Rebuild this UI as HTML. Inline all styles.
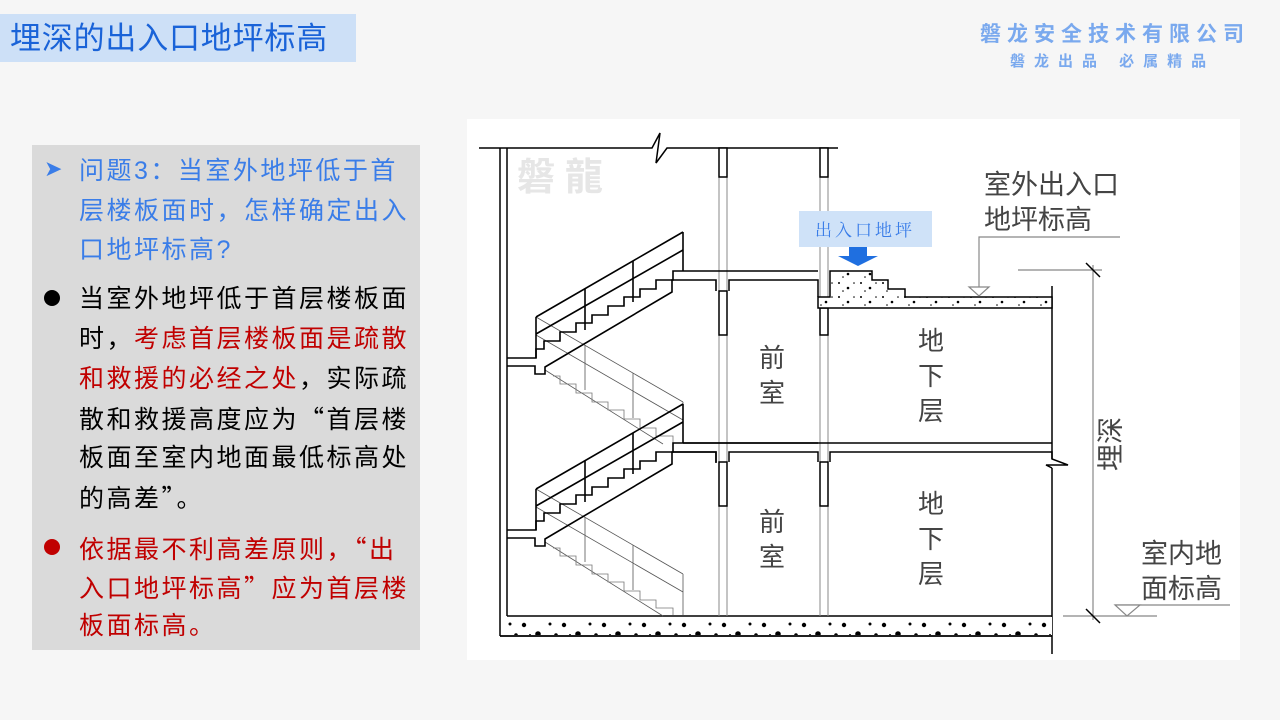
<!DOCTYPE html>
<html><head><meta charset="utf-8"><style>
body{margin:0;width:1280px;height:720px;background:#f6f6f6;position:relative;overflow:hidden;font-family:"Liberation Sans","Noto Sans CJK SC",sans-serif}
.t{position:absolute;white-space:nowrap}
.ln{position:absolute;left:79px;font-size:25px;line-height:30px;white-space:nowrap;letter-spacing:2.5px}
.q{font-family:"Noto Sans CJK SC",sans-serif}
</style></head><body>
<div class="t" style="left:0;top:14px;width:356px;height:48px;background:#cde0f7"></div>
<div class="t" style="left:10px;top:19px;font-size:31px;line-height:40px;color:#1a63d8;letter-spacing:0.8px">埋深的出入口地坪标高</div>
<div class="t" style="left:980px;top:18px;font-size:21px;font-weight:bold;color:#7aa9ee;letter-spacing:6px">磐龙安全技术有限公司</div>
<div class="t" style="left:1010px;top:50px;font-size:15px;font-weight:bold;color:#7aa9ee;letter-spacing:9px">磐龙出品 必属精品</div>

<div class="t" style="left:32px;top:145px;width:388px;height:505px;background:#dadada"></div>
<div class="t" style="left:44px;top:156px;font-size:22px;color:#3a7de8">➤</div>
<div class="ln" style="top:156px;color:#3a7de8">问题3：当室外地坪低于首</div>
<div class="ln" style="top:196px;color:#3a7de8">层楼板面时，怎样确定出入</div>
<div class="ln" style="top:235px;color:#3a7de8">口地坪标高?</div>
<div class="t" style="left:44px;top:290px;width:16px;height:16px;border-radius:50%;background:#000"></div>
<div class="ln" style="top:284px;color:#000">当室外地坪低于首层楼板面</div>
<div class="ln" style="top:324px;color:#000">时，<span style="color:#c00000">考虑首层楼板面是疏散</span></div>
<div class="ln" style="top:364px;color:#c00000">和救援的必经之处<span style="color:#000">，实际疏</span></div>
<div class="ln" style="top:403px;color:#000">散和救援高度应为<span class="q">“</span>首层楼</div>
<div class="ln" style="top:443px;color:#000">板面至室内地面最低标高处</div>
<div class="ln" style="top:482px;color:#000">的高差<span class="q">”</span>。</div>
<div class="t" style="left:44px;top:539px;width:16px;height:16px;border-radius:50%;background:#c00000"></div>
<div class="ln" style="top:533px;color:#c00000">依据最不利高差原则，<span class="q">“</span>出</div>
<div class="ln" style="top:572px;color:#c00000">入口地坪标高<span class="q">”</span>应为首层楼</div>
<div class="ln" style="top:611px;color:#c00000">板面标高。</div>

<svg style="position:absolute;left:0;top:0" width="1280" height="720" viewBox="0 0 1280 720">
<defs>
<pattern id="dots" width="22" height="14" patternUnits="userSpaceOnUse">
<rect width="22" height="14" fill="#fff"/>
<circle cx="3" cy="3" r="1" fill="#000"/><circle cx="12" cy="8" r="1.3" fill="#000"/><circle cx="18" cy="3" r="0.8" fill="#000"/><circle cx="7" cy="11" r="0.8" fill="#000"/>
</pattern>
<pattern id="big" width="40" height="20" patternUnits="userSpaceOnUse">
<rect width="40" height="20" fill="#fff"/>
<circle cx="4" cy="5" r="2.2" fill="#000"/><circle cx="18" cy="14" r="2.8" fill="#000"/><circle cx="30" cy="4" r="1.5" fill="#000"/><circle cx="36" cy="15" r="1.8" fill="#000"/><circle cx="10" cy="15" r="1" fill="#000"/>
</pattern>
<g id="flight">
<g stroke="#555" stroke-width="0.8" fill="none">
<line x1="536" y1="317" x2="683" y2="402"/>
<line x1="536" y1="335" x2="683" y2="420"/>
<line x1="585" y1="345" x2="585" y2="390"/>
<line x1="633" y1="373" x2="633" y2="418"/>
<line x1="545" y1="370" x2="663" y2="444"/>
<polyline stroke="#777" points="553,376 560,376 560,384 576,384 576,393 592,393 592,402 608,402 608,410 624,410 624,419 640,419 640,428 656,428 656,436 673,436 673,443"/>
<line x1="683" y1="402" x2="683" y2="443"/>
</g>
<g stroke="#000" stroke-width="1.6" fill="none">
<line x1="536" y1="317" x2="683" y2="232"/>
<line x1="536" y1="334" x2="683" y2="250"/>
<line x1="536" y1="317" x2="536" y2="358"/>
<line x1="585" y1="289" x2="585" y2="330"/>
<line x1="633" y1="261" x2="633" y2="302"/>
<line x1="683" y1="232" x2="683" y2="271"/>
<polyline points="507,358 536,358 536,349 544,349 544,341 560,341 560,332 576,332 576,323 592,323 592,315 608,315 608,306 624,306 624,297 640,297 640,289 656,289 656,280 673,280 673,271 818,271"/>
<polyline points="507,366 535,366 535,374 545,374 545,367 672,292 672,280 716,280 716,291"/>
</g>
</g>
</defs>
<rect x="467" y="119" width="773" height="541" fill="#fff"/>
<text x="517" y="190" font-size="38" font-weight="bold" fill="#e6e6e6" letter-spacing="10">磐龍</text>
<g stroke="#000" stroke-width="1.5" fill="none">
<polyline points="479,148 652,148 660,133 656,163 667,148 838,148"/>
<line x1="500" y1="148" x2="500" y2="636"/>
<line x1="507" y1="148" x2="507" y2="616"/>
<line x1="500" y1="636" x2="1052" y2="636"/>
<line x1="507" y1="616" x2="1052" y2="616"/>
<line x1="1052" y1="286" x2="1052" y2="459"/>
<line x1="1052" y1="468" x2="1052" y2="654"/>
</g>
<rect x="501" y="617" width="551" height="18" fill="url(#big)"/>
<line x1="500" y1="636" x2="1052" y2="636" stroke="#000" stroke-width="1.5"/>
<g stroke="#888" stroke-width="1">
<line x1="719" y1="148" x2="719" y2="616"/><line x1="727" y1="148" x2="727" y2="616"/>
<line x1="820" y1="148" x2="820" y2="616"/><line x1="828" y1="148" x2="828" y2="616"/>
</g>
<g stroke="#000" stroke-width="1.5" fill="#fff">
<rect x="719" y="148" width="8" height="29"/><rect x="820" y="148" width="8" height="29"/>
<rect x="719" y="291" width="8" height="44"/><rect x="820" y="308" width="8" height="27"/>
<rect x="719" y="462" width="8" height="44"/><rect x="820" y="462" width="8" height="44"/>
</g>
<use href="#flight"/>
<use href="#flight" transform="translate(0,172)"/>
<g stroke="#000" stroke-width="1.5" fill="none">
<polyline points="729,291 729,280 818,280 818,297"/>
</g>
<path d="M818,297 L830,297 L830,271 L872,271 L872,280 L888,280 L888,289 L905,289 L905,297 L1052,297 L1052,308 L818,308 Z" fill="url(#dots)" stroke="#000" stroke-width="1.5"/>
<g stroke="#000" stroke-width="1.5" fill="none">
<line x1="683" y1="443" x2="1052" y2="443"/>
<polyline points="716,462 716,452 673,452"/>
<polyline points="729,462 729,452 818,452 818,462"/>
<polyline points="830,462 830,452 1052,452 1052,459 1068,465 1046,465 1052,468"/>
</g>
<rect x="799" y="211" width="133" height="36" fill="#cfe2f8"/>
<text x="865" y="236" font-size="17" fill="#3a7de8" text-anchor="middle" font-family="'Liberation Serif','Noto Serif CJK SC',serif" letter-spacing="3">出入口地坪</text>
<path d="M849,247 L867,247 L867,256 L878,256 L858,266 L838,256 L849,256 Z" fill="#1f6fe0"/>
<g font-size="26" fill="#444" text-anchor="middle">
<text x="772" y="367">前</text><text x="772" y="402">室</text>
<text x="772" y="531">前</text><text x="772" y="566">室</text>
<text x="931" y="350">地</text><text x="931" y="385">下</text><text x="931" y="420">层</text>
<text x="931" y="513">地</text><text x="931" y="548">下</text><text x="931" y="583">层</text>
</g>
<g font-size="27" fill="#444">
<text x="984" y="194">室外出入口</text><text x="984" y="229">地坪标高</text>
<text x="1141" y="563">室内地</text><text x="1141" y="598">面标高</text>
</g>
<text transform="translate(1111,444) rotate(-90)" font-size="27" fill="#444" text-anchor="middle" dominant-baseline="central">埋深</text>
<g stroke="#888" stroke-width="1.2" fill="none">
<polyline points="1120,237 979,237 979,287"/>
<polygon points="969,287 989,287 979,296" fill="#fff"/>
<line x1="1018" y1="270" x2="1102" y2="270"/>
<line x1="1093" y1="265" x2="1093" y2="620"/>
<line x1="1063" y1="616" x2="1157" y2="616"/>
<line x1="1115" y1="605" x2="1230" y2="605"/>
<polygon points="1115,605 1140,605 1127,616" fill="#fff"/>
</g>
<g stroke="#000" stroke-width="1.5">
<line x1="1086" y1="263" x2="1100" y2="277"/>
<line x1="1086" y1="609" x2="1100" y2="623"/>
</g>
</svg>
</body></html>
